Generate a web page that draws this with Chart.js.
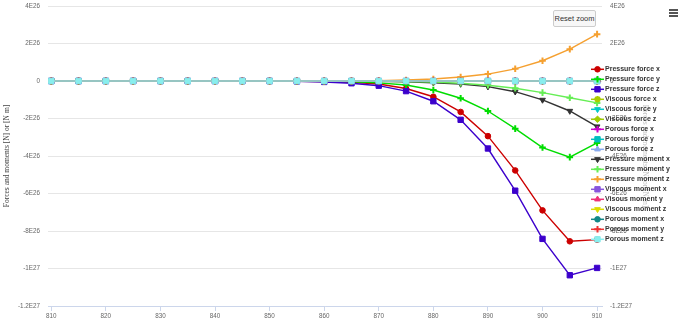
<!DOCTYPE html>
<html><head><meta charset="utf-8">
<script src="https://cdn.jsdelivr.net/npm/chart.js@4"></script>
<style>
html,body{margin:0;padding:0;background:#fff;}
#wrap{position:relative;width:690px;height:325px;}
#reset{position:absolute;left:553px;top:10px;width:43px;height:17px;box-sizing:border-box;border:1px solid #cccccc;border-radius:2px;background:#f7f7f7;font:7.5px "Liberation Sans",Arial,sans-serif;color:#333;display:flex;align-items:center;justify-content:center;white-space:nowrap;}
#menu{position:absolute;left:669px;top:9px;width:9px;height:8px;}
#menu span{position:absolute;left:0;width:9px;height:1.5px;background:#555;}
</style></head>
<body>
<div id="wrap"><canvas id="c"></canvas>
<div id="reset">Reset zoom</div>
<div id="menu"><span style="top:0"></span><span style="top:3px"></span><span style="top:6px"></span></div>
</div>
<script>
const xValues = [810,815,820,825,830,835,840,845,850,855,860,865,870,875,880,885,890,895,900,905,910];
const xTicks = [810,820,830,840,850,860,870,880,890,900,910];
const yTickValues = [-1.2e27,-1e27,-8e26,-6e26,-4e26,-2e26,0,2e26,4e26];
const yTickLabels = ['-1.2E27','-1E27','-8E26','-6E26','-4E26','-2E26','0','2E26','4E26'];
const axisTitle = 'Forces and moments [N] or [N m]';

const seriesNames = ['Pressure force x','Pressure force y','Pressure force z','Viscous force x','Viscous force y','Viscous force z','Porous force x','Porous force y','Porous force z','Pressure moment x','Pressure moment y','Pressure moment z','Viscous moment x','Visous moment y','Viscous moment z','Porous moment x','Porous moment y','Porous moment z'];

const pressureForceX = [0,0,0,0,0,0,0,0,0,-1e24,-3e24,-7e24,-1.6e25,-4e25,-8.4e25,-1.65e26,-2.94e26,-4.77e26,-6.9e26,-8.55e26,-8.46e26];
const pressureForceY = [0,0,0,0,0,0,0,0,0,-5e23,-2e24,-4e24,-1e25,-2.1e25,-4.8e25,-9.2e25,-1.6e26,-2.54e26,-3.55e26,-4.06e26,-3.3e26];
const pressureForceZ = [0,0,0,0,0,0,0,0,0,-2e24,-5e24,-1.2e25,-2.5e25,-5.4e25,-1.08e26,-2.07e26,-3.6e26,-5.85e26,-8.42e26,-1.036e27,-9.97e26];
const pressureMomentX = [0,0,0,0,0,0,0,0,0,0,-5e23,-1e24,-2e24,-4e24,-9e24,-1.6e25,-3e25,-5.7e25,-1.01e26,-1.6e26,-2.43e26];
const pressureMomentY = [0,0,0,0,0,0,0,0,0,0,0,-5e23,-1e24,-3e24,-6e24,-1.2e25,-2.3e25,-3.9e25,-6.2e25,-8.9e25,-1.17e26];
const pressureMomentZ = [0,0,0,0,0,0,0,0,0,0,5e23,1e24,2e24,5e24,1.1e25,2.1e25,3.7e25,6.5e25,1.08e26,1.7e26,2.5e26];
const zeroSeries = [0,0,0,0,0,0,0,0,0,0,0,0,0,0,0,0,0,0,0,0,0];

const seriesValues = [pressureForceX,pressureForceY,pressureForceZ,zeroSeries,zeroSeries,zeroSeries,zeroSeries,zeroSeries,zeroSeries,pressureMomentX,pressureMomentY,pressureMomentZ,zeroSeries,zeroSeries,zeroSeries,zeroSeries,zeroSeries,zeroSeries];
const seriesColors = ['#cc0000','#00dd00','#3c00cc','#aacc00','#00c8c8','#a0cc00','#cc00cc','#00bfbf','#88aaee','#333333','#66ee55','#f5a030','#8855dd','#ee3377','#dddd00','#118888','#ee3333','#88eeee'];
const seriesMarkers = ['circle','cross','rect','star','triangle','rectRot','cross','rect','triangle','triangle','cross','cross','rect','triangle','triangle','circle','cross','rect'];
const seriesMarkerRot = [0,0,0,0,180,0,0,0,0,180,0,0,0,0,180,0,0,0];

const FONT = "'Liberation Sans', Arial, sans-serif";
const N = seriesNames.length;
const datasets = seriesNames.map((name,i)=>{
  const m = seriesMarkers[i];
  const r = m==='rect' ? 3.8 : (m==='circle' ? 2.8 : 3.3);
  return {
    label: name,
    data: xValues.map((x,j)=>({x:x,y:seriesValues[i][j]})),
    borderColor: seriesColors[i],
    backgroundColor: seriesColors[i],
    pointBackgroundColor: seriesColors[i],
    pointBorderColor: seriesColors[i],
    borderWidth: 1.4,
    pointStyle: m,
    pointRotation: seriesMarkerRot[i],
    pointRadius: r,
    pointBorderWidth: (m==='cross'||m==='star') ? 2 : 1,
    tension: 0,
    fill: false,
    order: N-1-i
  };
});

const sideLegend = {
  id:'sideLegend',
  afterDraw(chart){
    const ctx = chart.ctx;
    ctx.save();
    chart.data.datasets.forEach((ds,i)=>{
      const y = 69.3 + i*10;
      ctx.strokeStyle = ds.borderColor;
      ctx.fillStyle = ds.borderColor;
      ctx.lineWidth = 1.5;
      ctx.beginPath(); ctx.moveTo(591,y); ctx.lineTo(604,y); ctx.stroke();
      ctx.lineWidth = ds.pointBorderWidth;
      if (Chart.helpers && Chart.helpers.drawPoint) {
        Chart.helpers.drawPoint(ctx,{pointStyle:ds.pointStyle,rotation:ds.pointRotation,radius:ds.pointRadius,borderWidth:ds.pointBorderWidth},597.5,y);
      } else {
        ctx.beginPath(); ctx.arc(597.5,y,3,0,Math.PI*2); ctx.fill();
      }
      ctx.fillStyle = '#333333';
      ctx.font = "bold 7px " + FONT;
      ctx.textBaseline = 'middle';
      ctx.textAlign = 'left';
      ctx.fillText(ds.label, 605, y);
    });
    ctx.restore();
  }
};

const tickFont = {family: FONT, size: 6.3};
const titleFont = {family: "'Liberation Serif', 'Times New Roman', serif", size: 7.5};
const clear = 'rgba(0,0,0,0)';

new Chart(document.getElementById('c'), {
  type: 'line',
  data: {datasets: datasets},
  options: {
    responsive: true,
    maintainAspectRatio: false,
    animation: false,
    layout: {autoPadding: false, padding: {top: 6, left: 0, right: 0, bottom: 0}},
    plugins: {legend: {display: false}, tooltip: {enabled: false}},
    scales: {
      x: {
        type: 'linear', min: 809.4, max: 910.9,
        afterBuildTicks: s => { s.ticks = xTicks.map(v=>({value:v})); },
        afterFit: s => { s.height = 19; },
        ticks: {color:'#666666', font: tickFont, padding: 1, maxRotation: 0, autoSkip: false},
        grid: {drawOnChartArea: false, drawTicks: true, tickLength: 5, color: '#ccd6eb'},
        border: {color: '#ccd6eb', width: 1}
      },
      y: {
        type: 'linear', position: 'left', min: -1.2e27, max: 4e26,
        afterBuildTicks: s => { s.ticks = yTickValues.map(v=>({value:v})); },
        afterFit: s => { s.width = 48; },
        ticks: {color:'#666666', font: tickFont, padding: 0, callback: (v,i)=>yTickLabels[i]},
        grid: {color: '#e6e6e6', drawTicks: true, tickLength: 8, tickColor: clear, lineWidth: 1},
        border: {display: false},
        title: {display: true, text: axisTitle, font: titleFont, color: '#444444', padding: {top: 3, bottom: 0}}
      },
      y2: {
        type: 'linear', position: 'right', min: -1.2e27, max: 4e26,
        afterBuildTicks: s => { s.ticks = yTickValues.map(v=>({value:v})); },
        afterFit: s => { s.width = 88; },
        ticks: {color:'#666666', font: tickFont, padding: 0, callback: (v,i)=>yTickLabels[i]},
        grid: {drawOnChartArea: false, drawTicks: true, tickLength: 8, tickColor: clear, color: clear},
        border: {display: false},
        title: {display: true, text: axisTitle, font: titleFont, color: '#c4c4c4', padding: {top: 40.5, bottom: 0}}
      }
    }
  },
  plugins: [sideLegend]
});
</script>
</body></html>
